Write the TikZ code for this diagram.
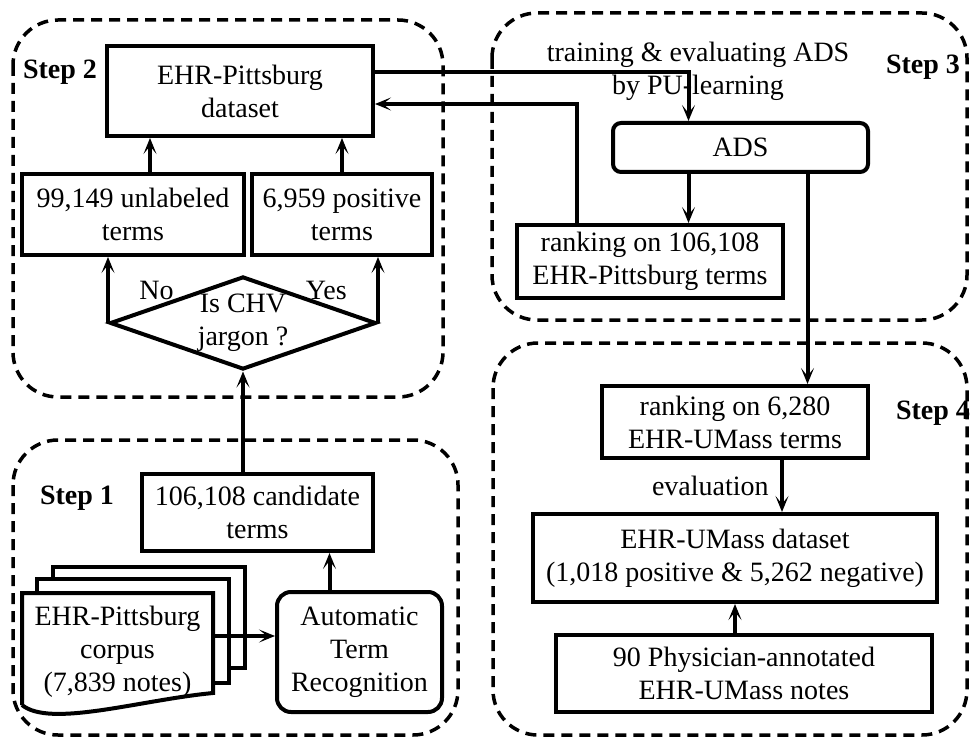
\documentclass[tikz,border=0pt]{standalone}
\usepackage{fontspec}
\setmainfont{Liberation Serif}
\usetikzlibrary{arrows.meta,shapes,positioning}

\begin{document}
\begin{tikzpicture}[x=1pt,y=-1pt,>={Stealth[length=16pt,width=13pt,inset=8pt]}]
    \fontsize{28pt}{33pt}\selectfont  % 字体大小
    \tikzstyle{format}=[rectangle,draw,line width=4pt,align=center,inner sep=0pt]  % 普通矩形框
    \tikzstyle{roundfmt}=[format,rounded corners=8pt]  % 圆角矩形框
    \tikzstyle{test}=[diamond,draw,line width=4pt,inner sep=0pt,minimum width=266pt,minimum height=93pt]  % 条件块
    \tikzstyle{stepbox}=[draw,line width=3.5pt,dash pattern=on 11pt off 7pt,rounded corners=45pt]  % 虚线外框
    \tikzstyle{steplabel}=[font=\bfseries]
    \tikzstyle{line}=[line width=4pt]

    \useasboundingbox (0,0) rectangle (971,738);

    % 虚线外框
    \draw[stepbox] (13,20) rectangle (443,397);
    \draw[stepbox] (492,13) rectangle (967,320);
    \draw[stepbox] (13,440) rectangle (458,735);
    \draw[stepbox] (493,343) rectangle (967,735);
    \node[steplabel] (s2) at (60,72) {Step 2};
    \node[steplabel] (s3) at (923,67) {Step 3};
    \node[steplabel] (s1) at (77,498) {Step 1};
    \node[steplabel] (s4) at (933,413) {Step 4};

    % Step 2
    \node[format,minimum width=266pt,minimum height=90pt] (dataset) at (240,91) {EHR-Pittsburg\\dataset};
    \node[format,minimum width=222pt,minimum height=81pt] (unl) at (133,214.5) {99,149 unlabeled\\terms};
    \node[format,minimum width=180pt,minimum height=81pt] (pos) at (342,214.5) {6,959 positive\\terms};
    \node[test,label={[align=center]center:Is CHV\\jargon ?}] (jargon) at (243,323) {};

    % Step 1
    \node[format,minimum width=231pt,minimum height=77pt] (cand) at (257.5,512.5) {106,108 candidate\\terms};
    \node[format,rounded corners=14pt,minimum width=165pt,minimum height=120pt] (atr) at (359.5,652) {Automatic\\Term\\Recognition};
    % 文档堆叠
    \draw[line,fill=white] (53,567) rectangle (245,668);
    \draw[line,fill=white] (37,579) rectangle (229,683);
    \draw[line,fill=white] (22,705) -- (22,593) -- (213,593) -- (213,693)
        .. controls (140,700) and (50,728) .. (22,705);
    \node[align=center,inner sep=0pt,minimum width=191pt] (corpus) at (117.5,652) {EHR-Pittsburg\\corpus\\(7,839 notes)};

    % Step 3
    \node[align=center] (train) at (698,71) {training \& evaluating ADS\\by PU-learning};
    \node[roundfmt,minimum width=255pt,minimum height=49pt] (ads) at (740.5,147.5) {ADS};
    \node[format,minimum width=266pt,minimum height=73pt] (rank1) at (650,261.5) {ranking on 106,108\\EHR-Pittsburg terms};

    % Step 4
    \node[format,minimum width=266pt,minimum height=72pt] (rank2) at (735,422) {ranking on 6,280\\EHR-UMass terms};
    \node[format,minimum width=404pt,minimum height=88pt] (umass) at (735,558) {EHR-UMass dataset\\(1,018 positive \& 5,262 negative)};
    \node[format,minimum width=376pt,minimum height=77pt] (phys) at (744,673.5) {90 Physician-annotated\\EHR-UMass notes};

    % 开始画线
    \draw[line,->] ([xshift=17pt]unl.north) -- ([xshift=17pt]unl.north |- dataset.south);
    \draw[line,->] (pos.north) -- (pos.north |- dataset.south);
    \draw[line,->] (jargon.west) -- node[midway,right=20pt]{No} (jargon.west |- unl.south);
    \draw[line,->] (jargon.east) -- node[midway,left=20pt]{Yes} (jargon.east |- pos.south);
    \draw[line,->] (jargon.south |- cand.north) -- (jargon.south);
    \draw[line,->] ([xshift=-30pt]atr.north) -- ([xshift=-30pt]atr.north |- cand.south);
    \draw[line,->] ([yshift=16pt]corpus.east) -- ([yshift=16pt]atr.west);
    \draw[line,->] ([yshift=19pt]dataset.east) -| ([xshift=-52pt]ads.north);
    \draw[line,->] ([xshift=-73pt]rank1.north) |- ([yshift=-13pt]dataset.east);
    \draw[line,->] ([xshift=-52pt]ads.south) -- ([xshift=-52pt]ads.south |- rank1.north);
    \draw[line,->] ([xshift=67pt]ads.south) -- ([xshift=67pt]ads.south |- rank2.north);
    \draw[line,->] ([xshift=47pt]rank2.south) -- node[midway,left=2pt]{evaluation} ([xshift=47pt]rank2.south |- umass.north);
    \draw[line,->] (umass.south |- phys.north) -- (umass.south);
\end{tikzpicture}
\end{document}
